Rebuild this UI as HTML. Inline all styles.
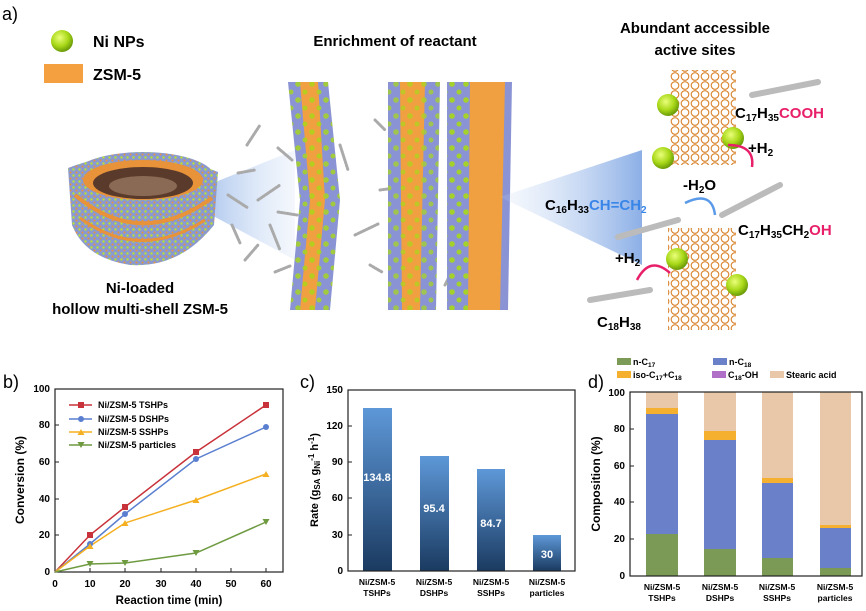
<!DOCTYPE html>
<html><head><meta charset="utf-8"><style>
body{margin:0;background:#fff}
svg{display:block;font-family:"Liberation Sans",sans-serif}
.b{font-weight:bold}
</style></head><body>
<svg width="866" height="611" viewBox="0 0 866 611" xmlns="http://www.w3.org/2000/svg">
<defs>
<radialGradient id="ball" cx="40%" cy="35%" r="65%"><stop offset="0" stop-color="#eaff7a"/><stop offset="0.6" stop-color="#a8d818"/><stop offset="1" stop-color="#6a9a08"/></radialGradient>
<linearGradient id="cone" x1="0" x2="1"><stop offset="0" stop-color="#6f9be0" stop-opacity="0.8"/><stop offset="1" stop-color="#c8daf4" stop-opacity="0.2"/></linearGradient>
<linearGradient id="cone2" x1="1" x2="0"><stop offset="0" stop-color="#6f9be0" stop-opacity="0.8"/><stop offset="1" stop-color="#c8daf4" stop-opacity="0.15"/></linearGradient>
<linearGradient id="bar" x1="0" y1="0" x2="0" y2="1"><stop offset="0" stop-color="#5e98d8"/><stop offset="1" stop-color="#1a3a60"/></linearGradient>
<pattern id="hex" width="10" height="9" patternUnits="userSpaceOnUse"><circle cx="5" cy="4.5" r="3.8" fill="none" stroke="#d9822b" stroke-width="1.1"/></pattern>
<pattern id="speck" width="6" height="6" patternUnits="userSpaceOnUse"><rect width="6" height="6" fill="#8a9ad0"/><circle cx="1.5" cy="1.5" r="1.2" fill="#b8e030"/><circle cx="4.5" cy="4.5" r="1" fill="#e8923a"/></pattern>
<pattern id="dots" width="14" height="16" patternUnits="userSpaceOnUse"><circle cx="4" cy="4" r="2.8" fill="#a8d818"/><circle cx="11" cy="12" r="2.5" fill="#a8d818"/></pattern>
</defs>
<!-- Panel a -->
<text x="2" y="20" font-size="18">a)</text>
<circle cx="62" cy="41" r="11" fill="url(#ball)"/>
<text x="93" y="47" font-size="16" class="b">Ni NPs</text>
<rect x="44" y="64" width="39" height="19" fill="#f5a040"/>
<text x="93" y="80" font-size="16" class="b">ZSM-5</text>
<text x="395" y="46" font-size="15" class="b" text-anchor="middle">Enrichment of reactant</text>
<text x="695" y="33" font-size="15" class="b" text-anchor="middle">Abundant accessible</text>
<text x="695" y="55" font-size="15" class="b" text-anchor="middle">active sites</text>
<!-- hemisphere -->
<polygon points="178,197 295,150 295,260" fill="url(#cone)"/>
<path d="M68,168 Q140,140 218,172 L214,225 Q180,268 130,265 Q85,258 72,225 Z" fill="url(#speck)"/>
<ellipse cx="143" cy="178" rx="72" ry="26" fill="url(#speck)"/>
<ellipse cx="143" cy="180" rx="60" ry="20" fill="#e8923a"/>
<ellipse cx="143" cy="183" rx="50" ry="16" fill="#5a3a2a"/>
<ellipse cx="143" cy="186" rx="34" ry="10" fill="#8a6a55"/>
<path d="M75,195 Q140,250 212,198" fill="none" stroke="#e8923a" stroke-width="4"/>
<path d="M80,218 Q140,262 205,220" fill="none" stroke="#e8923a" stroke-width="3"/>
<text x="140" y="293" font-size="15" class="b" text-anchor="middle">Ni-loaded</text>
<text x="140" y="314" font-size="15" class="b" text-anchor="middle">hollow multi-shell ZSM-5</text>
<!-- molecules -->
<g stroke="#aaa" stroke-width="3" stroke-linecap="round" stroke-dasharray="1.5 1.5">
<line x1="247" y1="145" x2="260" y2="125"/><line x1="278" y1="148" x2="292" y2="160"/><line x1="238" y1="173" x2="255" y2="170"/><line x1="228" y1="195" x2="248" y2="208"/><line x1="258" y1="200" x2="280" y2="185"/><line x1="278" y1="212" x2="297" y2="215"/><line x1="232" y1="225" x2="240" y2="243"/><line x1="270" y1="225" x2="280" y2="250"/><line x1="245" y1="260" x2="258" y2="245"/><line x1="275" y1="272" x2="290" y2="266"/>
<line x1="340" y1="145" x2="348" y2="170"/><line x1="375" y1="120" x2="385" y2="130"/><line x1="380" y1="190" x2="395" y2="188"/><line x1="355" y1="235" x2="378" y2="224"/><line x1="370" y1="265" x2="382" y2="272"/><line x1="455" y1="115" x2="462" y2="145"/><line x1="450" y1="185" x2="460" y2="182"/><line x1="445" y1="285" x2="455" y2="265"/>
</g>
<!-- columns -->
<path d="M288,82 L328,82 L340,200 L330,310 L290,310 L300,200 Z" fill="#8a94d4"/>
<path d="M300,82 L318,82 L325,200 L315,310 L300,310 L310,200 Z" fill="#f0a040"/>
<path d="M288,82 L328,82 L340,200 L330,310 L290,310 L300,200 Z" fill="url(#dots)" opacity="0.8"/>
<path d="M388,82 L440,82 L436,310 L388,310 Z" fill="#8a94d4"/>
<path d="M400,82 L425,82 L420,310 L402,310 Z" fill="#f0a040"/>
<path d="M388,82 L440,82 L436,310 L388,310 Z" fill="url(#dots)" opacity="0.7"/>
<path d="M447,82 L512,82 L508,310 L447,310 Z" fill="#8a94d4"/>
<path d="M470,82 L505,82 L500,310 L468,310 Z" fill="#f0a040"/>
<path d="M447,82 L470,82 L468,310 L447,310 Z" fill="url(#dots)" opacity="0.9"/>
<polygon points="500,197 642,150 642,265" fill="url(#cone2)"/>
<!-- zeolite frameworks -->
<rect x="670" y="70" width="66" height="95" fill="url(#hex)"/>
<rect x="668" y="228" width="68" height="102" fill="url(#hex)"/>
<circle cx="668" cy="105" r="11" fill="url(#ball)"/>
<circle cx="663" cy="158" r="11" fill="url(#ball)"/>
<circle cx="733" cy="138" r="11" fill="url(#ball)"/>
<circle cx="677" cy="259" r="11" fill="url(#ball)"/>
<circle cx="737" cy="285" r="11" fill="url(#ball)"/>
<g stroke="#bbb" stroke-width="6" stroke-linecap="round">
<line x1="752" y1="95" x2="818" y2="82"/><line x1="722" y1="215" x2="780" y2="185"/><line x1="618" y1="237" x2="678" y2="220"/><line x1="590" y1="300" x2="650" y2="290"/>
</g>
<text x="735" y="118" font-size="15" class="b">C<tspan font-size="10" dy="3">17</tspan><tspan dy="-3">H</tspan><tspan font-size="10" dy="3">35</tspan><tspan dy="-3" fill="#e8206a">COOH</tspan></text>
<text x="748" y="153" font-size="15" class="b">+H<tspan font-size="10" dy="3">2</tspan></text>
<path d="M728,145 Q755,145 752,167" fill="none" stroke="#e8206a" stroke-width="2.5"/>
<text x="683" y="190" font-size="15" class="b">-H<tspan font-size="10" dy="3">2</tspan><tspan dy="-3">O</tspan></text>
<path d="M715,215 Q712,190 685,203" fill="none" stroke="#5a9ae8" stroke-width="2.5"/>
<text x="545" y="210" font-size="15" class="b">C<tspan font-size="10" dy="3">16</tspan><tspan dy="-3">H</tspan><tspan font-size="10" dy="3">33</tspan><tspan dy="-3" fill="#3a86e8">CH=CH</tspan><tspan font-size="10" dy="3" fill="#3a86e8">2</tspan></text>
<text x="738" y="235" font-size="15" class="b">C<tspan font-size="10" dy="3">17</tspan><tspan dy="-3">H</tspan><tspan font-size="10" dy="3">35</tspan><tspan dy="-3">CH</tspan><tspan font-size="10" dy="3">2</tspan><tspan dy="-3" fill="#e8206a">OH</tspan></text>
<text x="615" y="263" font-size="15" class="b">+H<tspan font-size="10" dy="3">2</tspan></text>
<path d="M670,273 Q650,255 637,280" fill="none" stroke="#e8206a" stroke-width="2.5"/>
<text x="597" y="327" font-size="15" class="b">C<tspan font-size="10" dy="3">18</tspan><tspan dy="-3">H</tspan><tspan font-size="10" dy="3">38</tspan></text>

<!-- Panel b -->
<text x="3" y="388" font-size="18">b)</text>
<rect x="55" y="389" width="228" height="183" fill="none" stroke="#222" stroke-width="1.2"/>
<g font-size="10" class="b" text-anchor="end">
<text x="50" y="575">0</text><text x="50" y="538">20</text><text x="50" y="502">40</text><text x="50" y="465">60</text><text x="50" y="428">80</text><text x="50" y="392">100</text>
</g>
<g stroke="#222"><line x1="55" y1="535" x2="59" y2="535"/><line x1="55" y1="499" x2="59" y2="499"/><line x1="55" y1="462" x2="59" y2="462"/><line x1="55" y1="425" x2="59" y2="425"/>
<line x1="90" y1="572" x2="90" y2="568"/><line x1="125" y1="572" x2="125" y2="568"/><line x1="161" y1="572" x2="161" y2="568"/><line x1="196" y1="572" x2="196" y2="568"/><line x1="231" y1="572" x2="231" y2="568"/><line x1="266" y1="572" x2="266" y2="568"/></g>
<g font-size="10" class="b" text-anchor="middle">
<text x="55" y="587">0</text><text x="90" y="587">10</text><text x="125" y="587">20</text><text x="161" y="587">30</text><text x="196" y="587">40</text><text x="231" y="587">50</text><text x="266" y="587">60</text>
</g>
<text x="169" y="604" font-size="11.5" class="b" text-anchor="middle">Reaction time (min)</text>
<text transform="translate(24,480) rotate(-90)" font-size="12" class="b" text-anchor="middle">Conversion (%)</text>
<polyline points="55,572 90,535 125,507 196,452 266,405" fill="none" stroke="#c8323a" stroke-width="1.5"/>
<polyline points="55,572 90,544 125,514 196,459 266,427" fill="none" stroke="#5a7fd0" stroke-width="1.5"/>
<polyline points="55,572 90,546 125,523 196,500 266,474" fill="none" stroke="#f5b021" stroke-width="1.5"/>
<polyline points="55,572 90,564 125,563 196,553 266,522" fill="none" stroke="#6e9a40" stroke-width="1.5"/>
<g fill="#c8323a"><rect x="87" y="532" width="6" height="6"/><rect x="122" y="504" width="6" height="6"/><rect x="193" y="449" width="6" height="6"/><rect x="263" y="402" width="6" height="6"/></g>
<g fill="#5a7fd0"><circle cx="90" cy="544" r="3"/><circle cx="125" cy="514" r="3"/><circle cx="196" cy="459" r="3"/><circle cx="266" cy="427" r="3"/></g>
<g fill="#f5b021"><path d="M90,543 l3.5,6 h-7z"/><path d="M125,520 l3.5,6 h-7z"/><path d="M196,497 l3.5,6 h-7z"/><path d="M266,471 l3.5,6 h-7z"/></g>
<g fill="#6e9a40"><path d="M90,567 l3.5,-6 h-7z"/><path d="M125,566 l3.5,-6 h-7z"/><path d="M196,556 l3.5,-6 h-7z"/><path d="M266,525 l3.5,-6 h-7z"/></g>
<g stroke-width="1.5"><line x1="69" y1="405" x2="92" y2="405" stroke="#c8323a"/><line x1="69" y1="419" x2="92" y2="419" stroke="#5a7fd0"/><line x1="69" y1="432" x2="92" y2="432" stroke="#f5b021"/><line x1="69" y1="445" x2="92" y2="445" stroke="#6e9a40"/></g>
<rect x="78" y="402" width="6" height="6" fill="#c8323a"/><circle cx="81" cy="419" r="3" fill="#5a7fd0"/><path d="M81,429 l3.5,6 h-7z" fill="#f5b021"/><path d="M81,448 l3.5,-6 h-7z" fill="#6e9a40"/>
<g font-size="9" class="b"><text x="98" y="408">Ni/ZSM-5 TSHPs</text><text x="98" y="422">Ni/ZSM-5 DSHPs</text><text x="98" y="435">Ni/ZSM-5 SSHPs</text><text x="98" y="448">Ni/ZSM-5 particles</text></g>

<!-- Panel c -->
<text x="300" y="388" font-size="18">c)</text>
<rect x="363" y="408" width="29" height="163" fill="url(#bar)"/>
<rect x="420" y="456" width="29" height="115" fill="url(#bar)"/>
<rect x="477" y="469" width="28" height="102" fill="url(#bar)"/>
<rect x="533" y="535" width="28" height="36" fill="url(#bar)"/>
<rect x="348" y="390" width="227" height="181" fill="none" stroke="#222" stroke-width="1.2"/>
<g stroke="#222"><line x1="348" y1="535" x2="352" y2="535"/><line x1="348" y1="498" x2="352" y2="498"/><line x1="348" y1="462" x2="352" y2="462"/><line x1="348" y1="426" x2="352" y2="426"/></g>
<g font-size="10" class="b" text-anchor="end">
<text x="343" y="574">0</text><text x="343" y="538">30</text><text x="343" y="501">60</text><text x="343" y="465">90</text><text x="343" y="429">120</text><text x="343" y="393">150</text>
</g>
<g font-size="11" class="b" fill="#fff" text-anchor="middle"><text x="377" y="481">134.8</text><text x="434" y="512">95.4</text><text x="491" y="527">84.7</text><text x="547" y="558">30</text></g>
<g font-size="8.5" class="b" text-anchor="middle">
<text x="377" y="585">Ni/ZSM-5</text><text x="377" y="596">TSHPs</text>
<text x="434" y="585">Ni/ZSM-5</text><text x="434" y="596">DSHPs</text>
<text x="491" y="585">Ni/ZSM-5</text><text x="491" y="596">SSHPs</text>
<text x="547" y="585">Ni/ZSM-5</text><text x="547" y="596">particles</text>
</g>
<text transform="translate(318,480) rotate(-90)" font-size="11" class="b" text-anchor="middle">Rate (g<tspan font-size="8" dy="2">SA</tspan><tspan dy="-2"> g</tspan><tspan font-size="8" dy="2">Ni</tspan><tspan font-size="8" dy="-6">-1</tspan><tspan dy="4"> h</tspan><tspan font-size="8" dy="-4">-1</tspan><tspan dy="4">)</tspan></text>

<!-- Panel d -->
<text x="588" y="388" font-size="18">d)</text>
<g font-size="9" class="b">
<rect x="617" y="358" width="14" height="7" fill="#7a9a55"/><text x="633" y="365">n-C<tspan font-size="6.5" dy="2">17</tspan></text>
<rect x="713" y="358" width="14" height="7" fill="#6a80c8"/><text x="729" y="365">n-C<tspan font-size="6.5" dy="2">18</tspan></text>
<rect x="617" y="371" width="14" height="7" fill="#f5b030"/><text x="633" y="378">iso-C<tspan font-size="6.5" dy="2">17</tspan><tspan dy="-2">+C</tspan><tspan font-size="6.5" dy="2">18</tspan></text>
<rect x="712" y="371" width="14" height="7" fill="#b070c8"/><text x="728" y="378">C<tspan font-size="6.5" dy="2">18</tspan><tspan dy="-2">-OH</tspan></text>
<rect x="770" y="371" width="14" height="7" fill="#e8c8a8"/><text x="786" y="378">Stearic acid</text>
</g>
<g>
<rect x="646" y="392" width="32" height="184" fill="#e8c8a8"/><rect x="646" y="408" width="32" height="6" fill="#f5b030"/><rect x="646" y="414" width="32" height="120" fill="#6a80c8"/><rect x="646" y="534" width="32" height="42" fill="#7a9a55"/>
<rect x="704" y="392" width="32" height="184" fill="#e8c8a8"/><rect x="704" y="431" width="32" height="9" fill="#f5b030"/><rect x="704" y="440" width="32" height="109" fill="#6a80c8"/><rect x="704" y="549" width="32" height="27" fill="#7a9a55"/>
<rect x="762" y="392" width="31" height="184" fill="#e8c8a8"/><rect x="762" y="478" width="31" height="5" fill="#f5b030"/><rect x="762" y="483" width="31" height="75" fill="#6a80c8"/><rect x="762" y="558" width="31" height="18" fill="#7a9a55"/>
<rect x="820" y="392" width="31" height="184" fill="#e8c8a8"/><rect x="820" y="525" width="31" height="3" fill="#f5b030"/><rect x="820" y="528" width="31" height="40" fill="#6a80c8"/><rect x="820" y="568" width="31" height="8" fill="#7a9a55"/>
</g>
<rect x="630" y="392" width="232" height="184" fill="none" stroke="#222" stroke-width="1.2"/>
<g stroke="#222"><line x1="630" y1="539" x2="634" y2="539"/><line x1="630" y1="502" x2="634" y2="502"/><line x1="630" y1="466" x2="634" y2="466"/><line x1="630" y1="429" x2="634" y2="429"/></g>
<g font-size="10" class="b" text-anchor="end">
<text x="625" y="579">0</text><text x="625" y="542">20</text><text x="625" y="505">40</text><text x="625" y="469">60</text><text x="625" y="432">80</text><text x="625" y="396">100</text>
</g>
<g font-size="8.5" class="b" text-anchor="middle">
<text x="662" y="590">Ni/ZSM-5</text><text x="662" y="601">TSHPs</text>
<text x="720" y="590">Ni/ZSM-5</text><text x="720" y="601">DSHPs</text>
<text x="777" y="590">Ni/ZSM-5</text><text x="777" y="601">SSHPs</text>
<text x="835" y="590">Ni/ZSM-5</text><text x="835" y="601">particles</text>
</g>
<text transform="translate(600,484) rotate(-90)" font-size="12" class="b" text-anchor="middle">Composition (%)</text>
</svg>
</body></html>
